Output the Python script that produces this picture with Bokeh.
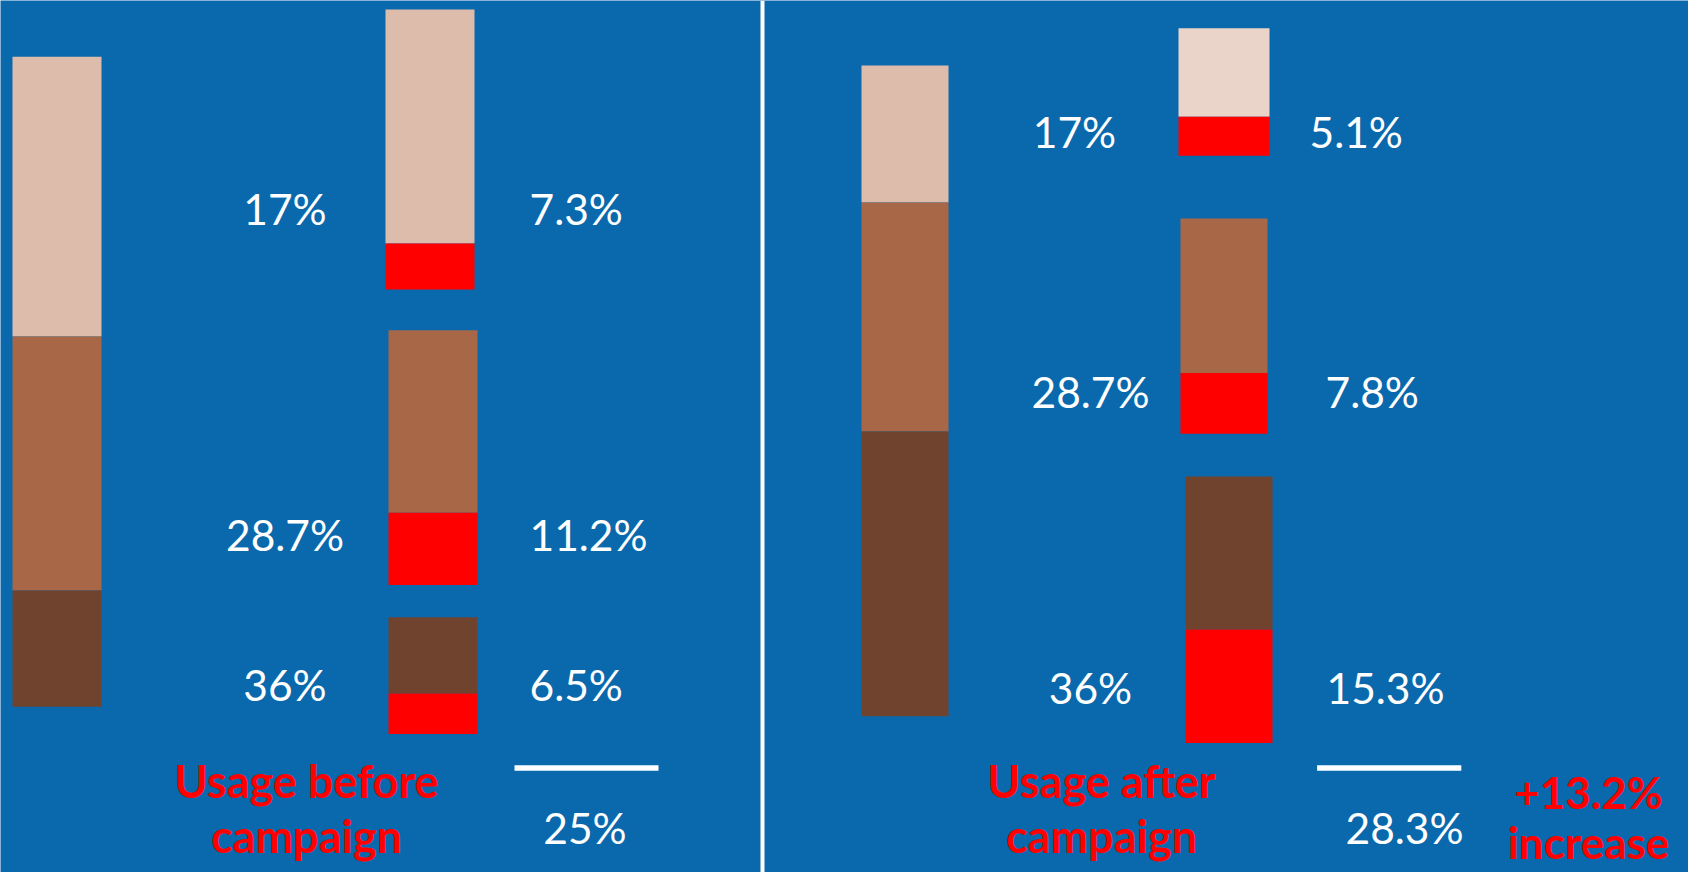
from bokeh.plotting import figure
from bokeh.models import Range1d, ColumnDataSource
from bokeh.embed import file_html
from bokeh.resources import INLINE
from bokeh.core.properties import value

# ---------------- data ----------------
panel_titles = [["Usage before", "campaign"], ["Usage after", "campaign"]]
group_labels = ["17%", "28.7%", "36%"]
red_labels_before = ["7.3%", "11.2%", "6.5%"]
red_labels_after = ["5.1%", "7.8%", "15.3%"]
total_labels = ["25%", "28.3%"]
increase_label = ["+13.2%", "increase"]

# tall stacked bar segment heights (light, medium, dark)
tall_before = [279.7, 254.2, 116.2]
tall_after = [136.8, 229.1, 284.8]
# small bars: coloured part and red part heights
small_before = [234.1, 182.4, 76.2]
red_before = [46.0, 72.3, 40.6]
small_after = [88.4, 154.6, 152.9]
red_after = [39.0, 60.7, 113.5]

# ---------------- styles ----------------
BG = "#0A69AC"
SEG_COLORS = ["#DEBCAC", "#A86747", "#70432F"]
SEG_COLORS_AFTER_SMALL = ["#EAD4C9", "#A86747", "#70432F"]
RED = "#FF0000"
FONT = "Lato"
DY = -16  # text vertical correction

W, H = 1688, 872
p = figure(width=W, height=H, x_range=Range1d(0, W), y_range=Range1d(H, 0),
           output_backend="svg", toolbar_location=None, min_border=0)
p.axis.visible = False
p.grid.visible = False
p.outline_line_color = None
p.background_fill_color = BG
p.border_fill_color = BG

# layout (positions)
layout = {
    "before": dict(tall_x=(12, 101), tall_top=56.2,
                   small_x=[(385, 474), (388, 477), (388, 477)],
                   small_top=[8.9, 329.8, 616.8],
                   lab_x_list=[284.5, 284.5, 284.5], lab_y=[224, 550, 700],
                   rlab_x=[529, 529, 529], rlab_y=[224, 550, 700],
                   line_x=(514, 658), total_x=584.5,
                   title_x=306),
    "after": dict(tall_x=(861, 948), tall_top=65.1,
                  small_x=[(1178, 1269), (1180, 1267), (1185, 1272)],
                  small_top=[27.8, 218.0, 476.1],
                  lab_x_list=[1074, 1090, 1090], lab_y=[147, 407, 703],
                  rlab_x=[1309, 1325, 1326], rlab_y=[147, 407, 703],
                  line_x=(1316.6, 1460.8), total_x=1404,
                  title_x=1101),
}

def txt(xs, ys, texts, align, color, size, bold=False):
    p.text(x=xs, y=[y + DY for y in ys], text=texts, text_align=align,
           text_baseline="alphabetic", text_color=color, text_font=value(FONT),
           text_font_size=size, text_font_style="bold" if bold else "normal")

def draw_panel(key, tall, small, red, small_colors, red_labels, total, title):
    L = layout[key]
    # tall stacked bar
    tops, bots = [], []
    y = L["tall_top"]
    for h in tall:
        tops.append(y)
        bots.append(y + h)
        y += h
    src = ColumnDataSource(dict(left=[L["tall_x"][0]] * 3, right=[L["tall_x"][1]] * 3,
                                top=tops, bottom=bots, color=SEG_COLORS))
    p.quad(left="left", right="right", top="top", bottom="bottom", fill_color="color",
           line_color=None, source=src)
    # small bars
    for i in range(3):
        x0, x1 = L["small_x"][i]
        t = L["small_top"][i]
        p.quad(left=[x0], right=[x1], top=[t], bottom=[t + small[i]],
               fill_color=small_colors[i], line_color=None)
        p.quad(left=[x0], right=[x1], top=[t + small[i]], bottom=[t + small[i] + red[i]],
               fill_color=RED, line_color=None)
    # labels
    txt(L["lab_x_list"], L["lab_y"], group_labels, "center", "white", "42.5px")
    txt(L["rlab_x"], L["rlab_y"], red_labels, "left", "white", "42.5px")
    # sum line and total
    p.quad(left=[L["line_x"][0]], right=[L["line_x"][1]], top=[764.8], bottom=[770.3],
           fill_color="white", line_color=None)
    txt([L["total_x"]], [842.6], [total], "center", "white", "42.5px")
    # red title
    txt([L["title_x"], L["title_x"]], [796.4, 851], title, "center", RED, "45px", bold=True)

draw_panel("before", tall_before, small_before, red_before, SEG_COLORS,
           red_labels_before, total_labels[0], panel_titles[0])
draw_panel("after", tall_after, small_after, red_after, SEG_COLORS_AFTER_SMALL,
           red_labels_after, total_labels[1], panel_titles[1])

# increase label (kept inside the page)
txt([1588, 1588], [807, 857], increase_label, "center", RED, "44px", bold=True)

# divider
p.quad(left=[760], right=[764], top=[0], bottom=[H], fill_color="white", line_color=None)

open("out.html", "w").write(file_html(p, INLINE))
